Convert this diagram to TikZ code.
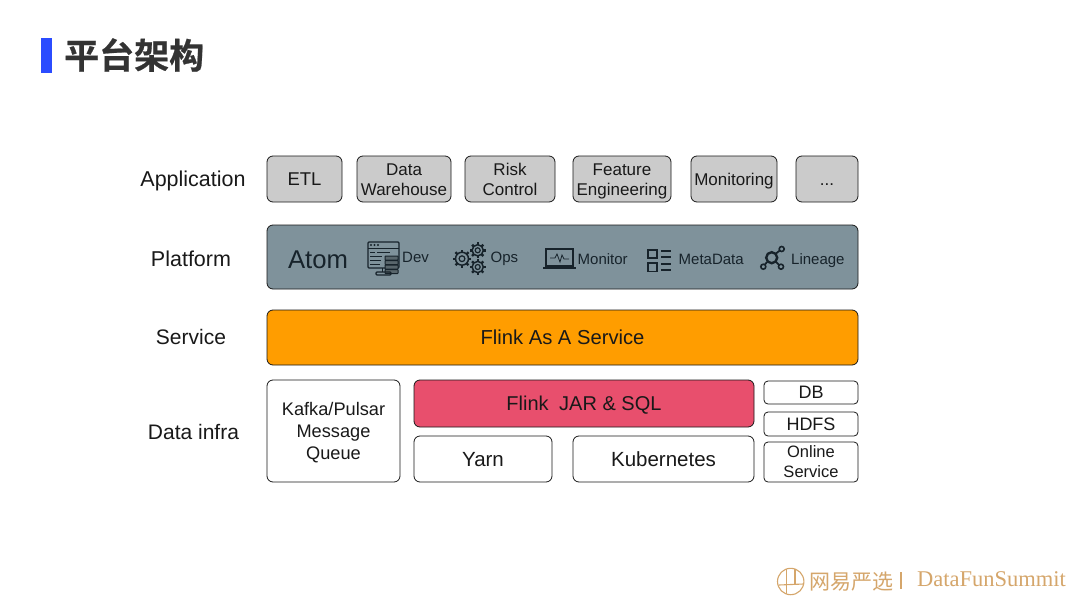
\documentclass[tikz,border=0pt]{standalone}
\usepackage{fontspec}
\setmainfont{Liberation Sans}
\newfontfamily\cjkbold[FakeBold=0.6]{Noto Sans CJK SC Bold}
\newfontfamily\cjklight{Noto Sans CJK SC}
\newfontfamily\serifface{Liberation Serif}
\definecolor{graybox}{HTML}{CBCBCB}
\definecolor{platf}{HTML}{7F929B}
\definecolor{orangeb}{HTML}{FF9D00}
\definecolor{redb}{HTML}{E84F6D}
\definecolor{blueb}{HTML}{2B4CFF}
\definecolor{titlec}{HTML}{333333}
\definecolor{tan}{HTML}{D5A66B}
\definecolor{icon}{HTML}{17232B}
\newcommand{\fs}[1]{\fontsize{#1}{#1}\selectfont}
\newcommand{\bx}[7]{% style, name, x1,y1,x2,y2, text
  \node[#1,minimum width={(#5-#3)*1pt},minimum height={(#6-#4)*1pt}] (#2) at ({(#3+#5)/2},{(#4+#6)/2}) {#7};}
\newcommand{\gear}[3]{% x,y,r
  \draw[icon,line width=1.5pt] (#1,#2) circle ({#3*0.72});
  \draw[icon,line width=1.2pt] (#1,#2) circle ({#3*0.32});
  \foreach \a in {0,45,...,315}
    \draw[icon,line width=2.4pt] ({#1+#3*0.72*cos(\a)},{#2+#3*0.72*sin(\a)}) -- ({#1+#3*1.02*cos(\a)},{#2+#3*1.02*sin(\a)});}
\tikzset{
  x=1pt,y=-1pt,
  capsize/.style={text height={#1*0.9pt},text depth={#1*0.184pt}},
  boxbase/.style={draw=black!90,line width=0.8pt,rounded corners=6pt,inner sep=0pt,align=center,text=black!90},
  appbox/.style={boxbase,fill=graybox,font=\fs{17},capsize=17},
  apptwo/.style={appbox,text height=35.3pt},
  layerlabel/.style={text=black!90,inner sep=0pt,capsize=21},
  whitebox/.style={boxbase,fill=white,font=\fs{20.5},capsize=20.5},
  smallbox/.style={boxbase,fill=white,font=\fs{18},capsize=18,rounded corners=4pt},
  platlabel/.style={font=\fs{15},text=icon,inner sep=0pt,anchor=base west},
  icn/.style={draw=icon,line width=1pt},
}
\begin{document}
\begin{tikzpicture}
\useasboundingbox (0,0) rectangle (1080,608);
\fill[white] (0,0) rectangle (1080,608);
\fill[blueb] (41,38) rectangle (52,73);
\node[font=\fs{35}\cjkbold,text=titlec,inner sep=0pt,anchor=west] (title) at (64,55) {平台架构};

\node[layerlabel,font=\fs{21.5}] (lapp) at (193,179) {Application};
\node[layerlabel,font=\fs{21.5}] (lplat) at (191,259) {Platform};
\node[layerlabel,font=\fs{21}] (lserv) at (191,337) {Service};
\node[layerlabel,font=\fs{21}] (ldata) at (193.5,432) {Data infra};

\bx{appbox,font=\fs{18.5}}{etl}{267}{156}{342}{202}{ETL}
\bx{apptwo}{dw}{357}{156}{451}{202}{Data\\[3pt]Warehouse}
\bx{apptwo}{risk}{465}{156}{555}{202}{Risk\\[3pt]Control}
\bx{apptwo}{feat}{573}{156}{671}{202}{Feature\\[3pt]Engineering}
\bx{appbox}{moni}{691}{156}{777}{202}{Monitoring}
\bx{appbox}{more}{796}{156}{858}{202}{...}

\bx{boxbase,fill=platf}{plat}{267}{225}{858}{289}{}
\node[font=\fs{25.7},text=icon,inner sep=0pt,capsize=25.7] (atom) at (318,259) {Atom};
\node[platlabel] (tdev) at (402,262.5) {Dev};
\node[platlabel] (tops) at (490.5,262.5) {Ops};
\node[platlabel] (tmon) at (577.5,264) {Monitor};
\node[platlabel] (tmeta) at (678.5,264) {MetaData};
\node[platlabel] (tlin) at (791,264) {Lineage};

% Dev icon
\draw[icn,line width=1.2pt,rounded corners=1pt] (368,242) rectangle (399,268);
\draw[icn] (368,248) -- (399,248);
\foreach \x in {371,374.5,378} \fill[icon] (\x,245) circle (1.2);
\draw[icn,line width=1pt] (370,252) -- (375,252) (377,252.5) -- (390,252.5)
  (370,256.5) -- (382,256.5) (370,260.5) -- (381,260.5) (370,264.5) -- (380,264.5);
\foreach \y in {256,260.5,265,269.5}
  \draw[icn,fill=platf!70!black,rounded corners=0.5pt] (385,\y) rectangle (398,{\y+4});
\draw[icn,line width=1.2pt,rounded corners=1pt] (376,272) rectangle (391,275);
\draw[icn] (382,268) -- (382,272);

% Ops icon
\gear{462}{258.7}{9}
\gear{477.7}{250.3}{7.8}
\gear{477.7}{267}{7.8}

% Monitor icon
\draw[icn,line width=1.3pt] (546,249) rectangle (573,266);
\draw[icon,line width=2.2pt] (543,268) -- (576,268);
\draw[icn,line width=0.8pt] (550,258) -- (555,258) -- (557,254) -- (560,262) -- (562,255) -- (564,259) -- (569,259);

% MetaData icon
\draw[icn,line width=1.2pt] (648,250) rectangle (657,258);
\draw[icn,line width=1.2pt] (648,263) rectangle (657,271.5);
\draw[icn,line width=1.2pt] (661,251) -- (671,251) (661,257) -- (671,257) (661,264) -- (671,264) (661,270) -- (671,270);

% Lineage icon
\draw[icon,line width=2.4pt] (771.7,257.7) circle (5.5);
\draw[icon,line width=1.8pt] (767,262) -- (763.3,266.7) (776,253.5) -- (781.7,249) (776,262) -- (781,266.7);
\foreach \p/\q in {763.3/266.7,781/266.7,781.7/249} \draw[icon,line width=1.6pt,fill=platf] (\p,\q) circle (2.5);

\bx{boxbase,fill=orangeb,font=\fs{20.2},capsize=20.2}{serv}{267}{310}{858}{365}{Flink As A Service}
\bx{whitebox,font=\fs{18.2},capsize=18.2,text height=60.4pt}{kafka}{267}{380}{400}{482}{Kafka/Pulsar\\[3.8pt]Message\\[3.8pt]Queue}
\bx{boxbase,fill=redb,font=\fs{20},capsize=20}{flink}{414}{380}{754}{427}{Flink\hspace{5pt} JAR \& SQL}
\bx{whitebox}{yarn}{414}{436}{552}{482}{Yarn}
\bx{whitebox}{kube}{573}{436}{754}{482}{Kubernetes}
\bx{smallbox}{db}{764}{381}{858}{404}{DB}
\bx{smallbox}{hdfs}{764}{412}{858}{436}{HDFS}
\bx{smallbox,font=\fs{16.5},capsize=16.5,text height=34.9pt}{online}{764}{442}{858}{482}{Online\\[3.5pt]Service}

% Logo
\draw[tan,line width=1.1pt] (790.7,581.5) circle (13.2);
\draw[tan,line width=1.1pt] (779,585) -- (803.5,584);
\draw[tan,line width=1.1pt] (786.5,568.5) -- (786.5,594) (795,568.5) -- (795,584);
\node[font=\fs{21}\cjklight,text=tan,inner sep=0pt,anchor=west] (logo) at (809,582) {网易严选};
\fill[tan] (899.5,572) rectangle (902,589);
\node[font=\fs{22.5}\serifface,text=tan,inner sep=0pt,anchor=west] (dfs) at (917,579.5) {DataFunSummit};
\end{tikzpicture}
\end{document}
